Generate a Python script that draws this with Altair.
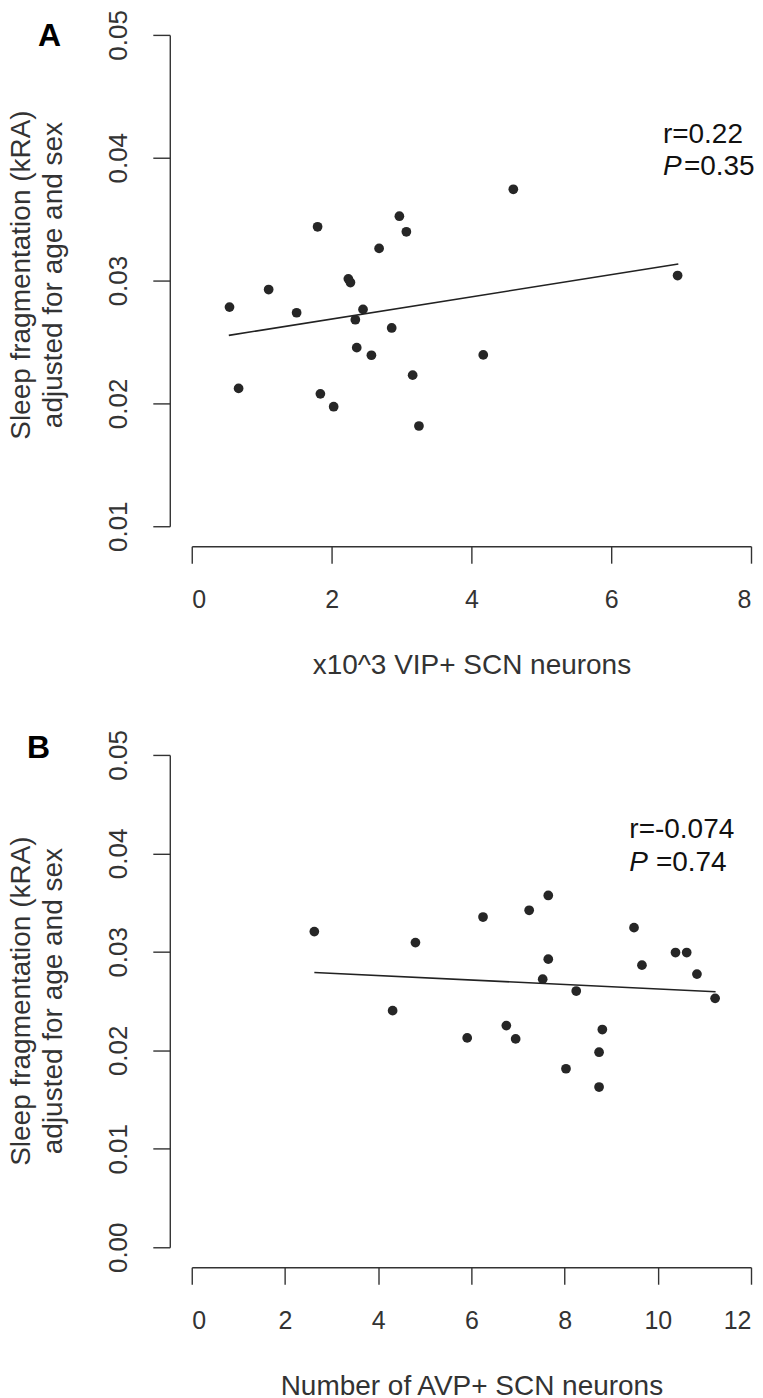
import altair as alt
import pandas as pd

# ---- Panel A data: VIP+ neurons (x10^3) vs sleep fragmentation ----
vip_x = [0.54, 0.67, 1.10, 1.50, 1.80, 1.84, 2.03, 2.24, 2.27, 2.34, 2.36,
         2.45, 2.57, 2.68, 2.86, 2.97, 3.07, 3.16, 3.25, 4.17, 4.60, 6.95]
vip_y = [0.02784, 0.02122, 0.02927, 0.02738, 0.03438, 0.02078, 0.01973,
         0.03014, 0.02984, 0.02681, 0.02454, 0.02765, 0.02392, 0.03262,
         0.02614, 0.03524, 0.03397, 0.02230, 0.01816, 0.02395, 0.03743,
         0.03041]
vip_fit_x = [0.53, 6.96]
vip_fit_y = [0.02554, 0.03135]

# ---- Panel B data: AVP+ neurons vs sleep fragmentation ----
avp_x = [2.63, 4.31, 4.80, 5.91, 6.25, 6.75, 6.95, 7.24, 7.53, 7.65, 7.65,
         8.03, 8.25, 8.74, 8.74, 8.81, 9.49, 9.66, 10.38, 10.62, 10.84, 11.23]
avp_y = [0.03206, 0.02403, 0.03094, 0.02126, 0.03354, 0.02251, 0.02116,
         0.03422, 0.02723, 0.03573, 0.02926, 0.01813, 0.02602, 0.01981,
         0.01627, 0.02211, 0.03246, 0.02865, 0.02993, 0.02993, 0.02774,
         0.02528]
avp_fit_x = [2.63, 11.24]
avp_fit_y = [0.02791, 0.02595]

# ---- annotations ----
ann_a_text = ["r=0.22", "=0.35"]
ann_a_x = [6.74, 7.04]
ann_a_y = [0.04122, 0.03862]
ann_a_p = [6.74, 0.03862]

ann_b_text = ["r=-0.074", "=0.74"]
ann_b_x = [9.39, 9.96]
ann_b_y = [0.04158, 0.03824]
ann_b_p = [9.39, 0.03824]

# ---- axes ----
a_xticks = [0, 2, 4, 6, 8]
a_yticks = [0.01, 0.02, 0.03, 0.04, 0.05]
b_xticks = [0, 2, 4, 6, 8, 10, 12]
b_yticks = [0.00, 0.01, 0.02, 0.03, 0.04, 0.05]
y_title = ["Sleep fragmentation (kRA)", "adjusted for age and sex"]

FONT = "Liberation Sans"
AXC = "#333333"
PTC = "#262626"


def panel(px, py, fx, fy, atext, ax, ay, ap, xticks, yticks, xtitle,
          letter, letter_dx, letter_dy, height, title_y):
    pts = pd.DataFrame({"x": px, "y": py})
    fit = pd.DataFrame({"x": fx, "y": fy})
    ann = pd.DataFrame({"x": ax, "y": ay, "t": atext})
    pann = pd.DataFrame({"x": [ap[0]], "y": [ap[1]], "t": ["P"]})
    lab = pd.DataFrame({"t": [letter]})

    xs = alt.Scale(domain=[xticks[0], xticks[-1]], nice=False, zero=False)
    ys = alt.Scale(domain=[yticks[0], yticks[-1]], nice=False, zero=False)

    xaxis = alt.Axis(values=xticks, format="d", offset=20, tickSize=17,
                     labelFontSize=25, labelPadding=44,
                     labelBaseline="alphabetic", title=xtitle,
                     titleFontSize=28, titleFontWeight="normal",
                     titleY=127, titleBaseline="alphabetic")
    yaxis = alt.Axis(values=yticks, format=".2f", offset=22, tickSize=17,
                     labelFontSize=26, labelAngle=270, labelAlign="center",
                     labelBaseline="alphabetic", labelPadding=26,
                     title=y_title, titleFontSize=28,
                     titleFontWeight="normal", titleAngle=270,
                     titleX=-140, titleY=title_y, titleAlign="center",
                     titleBaseline="alphabetic", titleLineHeight=32)

    points = alt.Chart(pts).mark_circle(size=95, color=PTC, opacity=1).encode(
        x=alt.X("x:Q", scale=xs, axis=xaxis),
        y=alt.Y("y:Q", scale=ys, axis=yaxis),
    )
    line = alt.Chart(fit).mark_line(color="#222222", strokeWidth=1.6).encode(
        x=alt.X("x:Q", scale=xs), y=alt.Y("y:Q", scale=ys))
    txt = alt.Chart(ann).mark_text(align="left", baseline="alphabetic",
                                   fontSize=28, font=FONT,
                                   color="#111111").encode(
        x=alt.X("x:Q", scale=xs), y=alt.Y("y:Q", scale=ys), text="t:N")
    ptxt = alt.Chart(pann).mark_text(align="left", baseline="alphabetic",
                                     fontSize=28, font=FONT,
                                     fontStyle="italic",
                                     color="#111111").encode(
        x=alt.X("x:Q", scale=xs), y=alt.Y("y:Q", scale=ys), text="t:N")
    letter_mark = alt.Chart(lab).mark_text(
        align="left", baseline="alphabetic", fontSize=32, fontWeight="bold",
        font=FONT, color="black").encode(
        x=alt.value(letter_dx), y=alt.value(letter_dy), text="t:N")

    return alt.layer(points, line, txt, ptxt, letter_mark).properties(
        width=560, height=height)


chart_a = panel(vip_x, vip_y, vip_fit_x, vip_fit_y, ann_a_text, ann_a_x,
                ann_a_y, ann_a_p, a_xticks, a_yticks,
                "x10^3 VIP+ SCN neurons", "A", -154, 11, 492, 240)
chart_b = panel(avp_x, avp_y, avp_fit_x, avp_fit_y, ann_b_text, ann_b_x,
                ann_b_y, ann_b_p, b_xticks, b_yticks,
                "Number of AVP+ SCN neurons", "B", -165, 3, 493, 246)

chart = alt.vconcat(chart_a, chart_b, spacing=229, bounds="flush").properties(
    padding=0
).configure_view(strokeWidth=0).configure_axis(
    grid=False, domainColor=AXC, tickColor=AXC, domainWidth=1.4,
    tickWidth=1.4, labelColor=AXC, titleColor=AXC, labelFont=FONT,
    titleFont=FONT
)

chart.save("out.html", embed_options={"renderer": "svg", "actions": False})
